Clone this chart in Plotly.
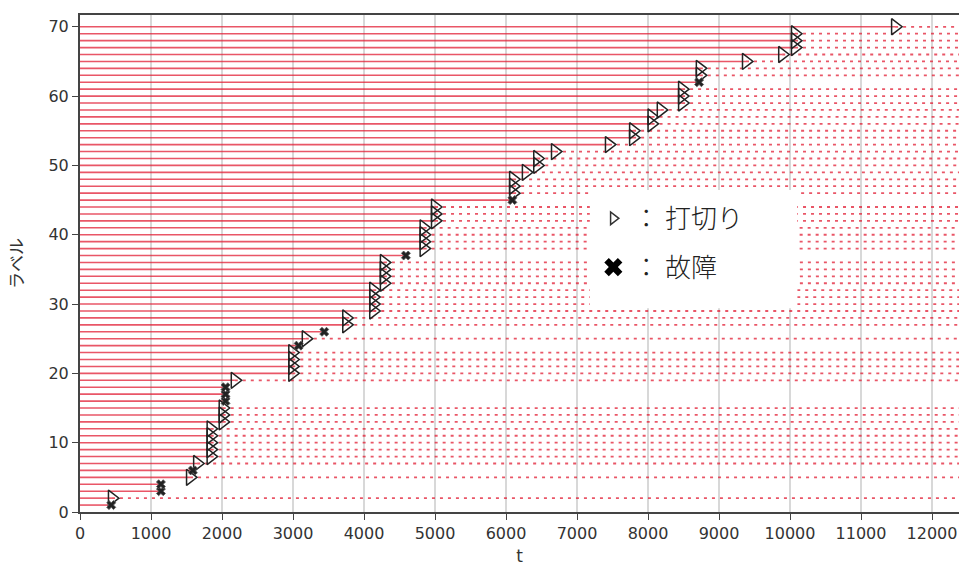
import plotly.graph_objects as go

# Unit labels 1..70, observed times and status (1 = failure, 0 = censored)
labels = list(range(1, 71))
times = [
    440, 450, 1140, 1140, 1550, 1590, 1650, 1840, 1840, 1840,
    1840, 1840, 2010, 2010, 2010, 2050, 2050, 2050, 2180, 2990,
    2990, 2990, 2990, 3080, 3180, 3440, 3750, 3750, 4130, 4130,
    4130, 4130, 4280, 4280, 4280, 4280, 4590, 4840, 4840, 4840,
    4840, 5000, 5000, 5000, 6090, 6100, 6100, 6100, 6280, 6440,
    6440, 6690, 7450, 7790, 7790, 8050, 8050, 8180, 8480, 8480,
    8480, 8720, 8730, 8730, 9380, 9890, 10070, 10070, 10070, 11480,
]
status = [
    1, 0, 1, 1, 0, 1, 0, 0, 0, 0,
    0, 0, 0, 0, 0, 1, 1, 1, 0, 0,
    0, 0, 0, 1, 0, 1, 0, 0, 0, 0,
    0, 0, 0, 0, 0, 0, 1, 0, 0, 0,
    0, 0, 0, 0, 1, 0, 0, 0, 0, 0,
    0, 0, 0, 0, 0, 0, 0, 0, 0, 0,
    0, 1, 0, 0, 0, 0, 0, 0, 0, 0,
]
x_ticks = list(range(0, 13000, 1000))
x_tick_text = [str(v) for v in x_ticks]
y_ticks = list(range(0, 80, 10))
x_max = 12380
y_max = 71.7

line_color = "rgba(226,30,52,0.75)"

# operating periods (solid) and the remaining period of censored units (dotted)
sx, sy, dx, dy = [], [], [], []
for lab, t, s in zip(labels, times, status):
    sx += [0, t, None]
    sy += [lab, lab, None]
    if s == 0:
        dx += [t, x_max, None]
        dy += [lab, lab, None]

cens_t = [t for t, s in zip(times, status) if s == 0]
cens_y = [l for l, s in zip(labels, status) if s == 0]
fail_t = [t for t, s in zip(times, status) if s == 1]
fail_y = [l for l, s in zip(labels, status) if s == 1]

fig = go.Figure()
fig.add_trace(go.Scatter(x=sx, y=sy, mode="lines", showlegend=False,
                         line=dict(color=line_color, width=1.6), hoverinfo="skip"))
fig.add_trace(go.Scatter(x=dx, y=dy, mode="lines", showlegend=False,
                         line=dict(color=line_color, width=1.8, dash="3px,5px"),
                         hoverinfo="skip"))
fig.add_trace(go.Scatter(x=cens_t, y=cens_y, mode="markers", showlegend=False,
                         marker=dict(symbol="triangle-right-open", size=14,
                                     color="#222222", line=dict(width=1.5, color="#222222"))))
fig.add_trace(go.Scatter(x=fail_t, y=fail_y, mode="markers", showlegend=False,
                         marker=dict(symbol="x", size=8, color="#222222",
                                     line=dict(width=0.8, color="#555555"))))

# legend entries
fig.add_trace(go.Scatter(x=[None], y=[None], mode="markers", name="： 打切り",
                         legendgroup="c",
                         marker=dict(symbol="triangle-right-open", size=11,
                                     color="#333333", line=dict(width=1.5, color="#333333"))))
fig.add_trace(go.Scatter(x=[None], y=[None], mode="markers", name="： 故障",
                         legendgroup="f",
                         marker=dict(symbol="x", size=16, color="#000000",
                                     line=dict(width=0))))

# white panel behind the legend
fig.add_shape(type="rect", xref="paper", yref="paper",
              x0=0.580, x1=0.816, y0=0.410, y1=0.648,
              fillcolor="white", line=dict(width=0), layer="above")

fig.update_layout(
    width=959, height=568,
    margin=dict(l=80, r=0, t=15, b=56),
    plot_bgcolor="white", paper_bgcolor="white",
    font=dict(family="DejaVu Sans", size=16, color="#333333"),
    legend=dict(x=0.584, y=0.638, xanchor="left", yanchor="top",
                bgcolor="rgba(0,0,0,0)", borderwidth=0,
                font=dict(family="Noto Sans CJK JP", size=26, color="#222222",
                          weight=300),
                traceorder="grouped", tracegroupgap=12),
    xaxis=dict(range=[0, x_max], tickvals=x_ticks, ticktext=x_tick_text,
               showgrid=True, gridcolor="#d8d8d8", gridwidth=2, zeroline=False,
               showline=True, linecolor="#444444", linewidth=2, mirror=True,
               ticks="outside", ticklen=6, tickcolor="#444444",
               title=dict(text="t", font=dict(size=17), standoff=8)),
    yaxis=dict(range=[0, y_max], tickvals=y_ticks, showgrid=False,
               zeroline=False, showline=True, linecolor="#444444", linewidth=2,
               ticks="outside", ticklen=6, tickcolor="#444444",
               title=dict(text="ラベル", font=dict(family="Noto Sans CJK JP", size=17),
                          standoff=20)),
)

fig.write_html("out.html")
